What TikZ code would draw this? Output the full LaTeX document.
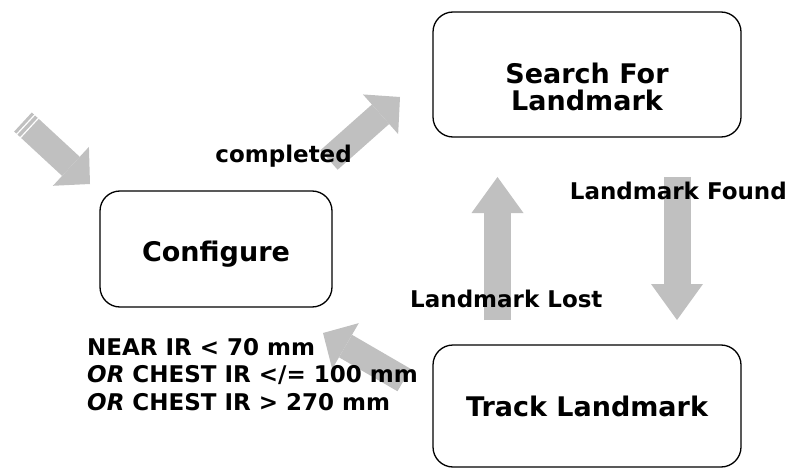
\documentclass[tikz,border=0pt]{standalone}
\usepackage{fontspec}
\setmainfont{DejaVu Sans}
\usetikzlibrary{arrows.meta,calc}
\definecolor{arrowgray}{RGB}{192,192,192}
\begin{document}
\begin{tikzpicture}[x=1pt,y=-1pt,
  state/.style={draw=black, line width=1.3pt, rounded corners=20pt, inner sep=0pt,
    font=\bfseries\fontsize{27}{27}\selectfont},
  lbl/.style={font=\bfseries\fontsize{23}{27.5}\selectfont, inner sep=0pt},
  bigarrow/.style={draw=arrowgray, line width=26pt, -{Triangle[width=53pt,length=26pt,line width=0pt]}},
  vertarrow/.style={draw=arrowgray, line width=27pt, -{Triangle[width=52pt,length=36pt,line width=0pt]}},
  stripe/.style={draw=arrowgray, line width=26pt}
]
\useasboundingbox (0,0) rectangle (790,468);

% states
\node[state, minimum width=232pt, minimum height=116pt] (conf) at (216,249)
  {\raisebox{-12.5pt}[0pt][0pt]{Configure}};
\node[state, minimum width=308pt, minimum height=125pt] (search) at (587,74.5)
  {\raisebox{-36pt}[0pt][0pt]{\parbox[b]{290pt}{\centering Search For\\Landmark}}};
\node[state, minimum width=308pt, minimum height=122pt] (track) at (587,406)
  {\raisebox{-10pt}[0pt][0pt]{Track Landmark}};

% connector end points
\coordinate (i0) at (23,122);  \coordinate (i1) at (90,184);
\coordinate (c0) at (329,160); \coordinate (c1) at (400,97);
\coordinate (f0) at (677,177); \coordinate (f1) at (677,320);
\coordinate (l0) at (497.5,320); \coordinate (l1) at (497.5,177);
\coordinate (b0) at (404,380); \coordinate (b1) at (323,333);

% initial striped arrow
\draw[stripe] (i0) -- ($(i0)!3pt!(i1)$);
\draw[stripe] ($(i0)!4.5pt!(i1)$) -- ($(i0)!8pt!(i1)$);
\draw[bigarrow] ($(i0)!9.5pt!(i1)$) -- (i1);

% transitions
\draw[bigarrow] (c0) -- (c1);
\draw[vertarrow] (f0) -- (f1);
\draw[vertarrow] (l0) -- (l1);
\draw[bigarrow] (b0) -- (b1);

% labels
\node[lbl, anchor=base east] (lcomp) at (352,163) {completed};
\node[lbl, anchor=base east] (lfound) at (787,199) {Landmark Found};
\node[lbl, anchor=base west] (llost) at (410,307) {Landmark Lost};
\node[lbl, anchor=base west, align=left] (lcond) at (87,410)
  {NEAR IR < 70 mm\\\textit{OR} CHEST IR </= 100 mm\\\textit{OR} CHEST IR > 270 mm};
\end{tikzpicture}
\end{document}
